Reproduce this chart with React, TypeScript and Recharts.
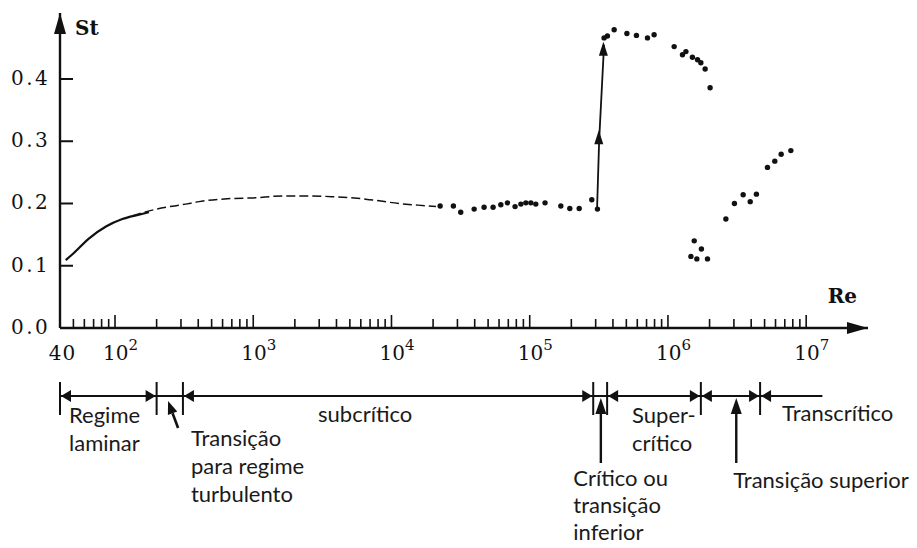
import React from 'react';
import { ComposedChart, Line, Scatter, XAxis, YAxis, ReferenceDot, ReferenceArea } from 'recharts';

// ---------- data (Re, St) ----------
const laminarCurve = [
  { re: 44, st: 0.109 }, { re: 49, st: 0.118 }, { re: 65, st: 0.144 }, { re: 86, st: 0.163 },
  { re: 113, st: 0.175 }, { re: 149, st: 0.182 }, { re: 176, st: 0.186 },
];
const subcriticalCurve = [
  { re: 133, st: 0.180 }, { re: 200, st: 0.191 }, { re: 324, st: 0.199 }, { re: 405, st: 0.203 },
  { re: 706, st: 0.208 }, { re: 1000, st: 0.209 }, { re: 1620, st: 0.212 }, { re: 2500, st: 0.212 },
  { re: 3700, st: 0.211 }, { re: 6500, st: 0.207 }, { re: 11350, st: 0.200 }, { re: 18600, st: 0.196 },
  { re: 21000, st: 0.195 },
];
const subcriticalPoints = [
  { re: 22490, st: 0.196 }, { re: 28050, st: 0.196 }, { re: 31700, st: 0.186 }, { re: 39630, st: 0.191 },
  { re: 46770, st: 0.194 }, { re: 54330, st: 0.194 }, { re: 61800, st: 0.198 }, { re: 69020, st: 0.201 },
  { re: 78340, st: 0.195 }, { re: 86300, st: 0.199 }, { re: 93760, st: 0.201 }, { re: 101900, st: 0.201 },
  { re: 110660, st: 0.199 }, { re: 129100, st: 0.201 }, { re: 167900, st: 0.196 }, { re: 194980, st: 0.192 },
  { re: 228000, st: 0.192 }, { re: 281200, st: 0.206 }, { re: 309000, st: 0.191 },
];
const criticalJump = [
  { re: 307000, st: 0.191 }, { re: 318000, st: 0.302 }, { re: 345000, st: 0.455 },
];
const jumpArrowHeads = [
  { re: 316000, st: 0.305 }, { re: 341000, st: 0.447 },
];
const supercriticalPoints = [
  { re: 345100, st: 0.466 }, { re: 364800, st: 0.469 }, { re: 408300, st: 0.479 }, { re: 504700, st: 0.473 },
  { re: 591600, st: 0.470 }, { re: 711200, st: 0.466 }, { re: 794300, st: 0.471 }, { re: 1109000, st: 0.452 },
  { re: 1274000, st: 0.439 }, { re: 1349000, st: 0.444 }, { re: 1503000, st: 0.435 }, { re: 1637000, st: 0.431 },
  { re: 1730000, st: 0.426 }, { re: 1858000, st: 0.416 }, { re: 2018000, st: 0.386 },
];
const transcriticalPoints = [
  { re: 1549000, st: 0.140 }, { re: 1746000, st: 0.127 }, { re: 1466000, st: 0.115 }, { re: 1618000, st: 0.111 },
  { re: 1932000, st: 0.111 }, { re: 2624000, st: 0.175 }, { re: 3027000, st: 0.200 }, { re: 3500000, st: 0.214 },
  { re: 3936000, st: 0.203 }, { re: 4365000, st: 0.215 }, { re: 5248000, st: 0.258 }, { re: 5929000, st: 0.268 },
  { re: 6592000, st: 0.279 }, { re: 7745000, st: 0.285 },
];

// ---------- axes ----------
const xDomain = [40, 2.8e7];
const yDomain = [0, 0.506];
const xTicks = [
  40, 50, 60, 70, 80, 90, 100,
  200, 300, 400, 500, 600, 700, 800, 900, 1000,
  2000, 3000, 4000, 5000, 6000, 7000, 8000, 9000, 10000,
  20000, 30000, 40000, 50000, 60000, 70000, 80000, 90000, 100000,
  200000, 300000, 400000, 500000, 600000, 700000, 800000, 900000, 1000000,
  2000000, 3000000, 4000000, 5000000, 6000000, 7000000, 8000000, 9000000, 10000000,
];
const yTicks = [0, 0.1, 0.2, 0.3, 0.4];
const xLabelPlain = [40];
const xLabelDecades = [100, 1000, 10000, 100000, 1000000, 10000000];
const yAxisTitle = 'St';
const xAxisTitle = 'Re';

// ---------- regime annotations ----------
const regimeLineRange = [40, 1.31e7];
const regimeBoundaries = [40, 200, 310, 2.88e5, 3.63e5, 1.73e6, 4.64e6];
const boundaryArrows = ['R', 'L', 'R', 'L', 'R', 'LR', 'LR'];
const upArrows = [3.27e5, 3.12e6];
const smallArrow = [242];
const regimeLabels = [
  { re: 40, lines: ['Regime', 'laminar'] },
  { re: 310, lines: ['Transição', 'para regime', 'turbulento'] },
  { re: 2944, lines: ['subcrítico'] },
  { re: 3.63e5, lines: ['Super-', 'crítico'] },
  { re: 4.64e6, lines: ['Transcrítico'] },
  { re: 3.27e5, lines: ['Crítico ou', 'transição', 'inferior'] },
  { re: 3.12e6, lines: ['Transição superior'] },
];
const labelOffsets = [
  [9, 95, 28], [8, 118, 28], [0, 94, 28], [25, 95, 28], [22, 93, 28], [-27.5, 158, 27], [-3, 160, 28],
];

const INK = '#111';
const SERIF = '"DejaVu Serif", serif';
const SANS = 'Lato, "Open Sans", sans-serif';

const XTick = (props: any) => {
  const { x, y, payload } = props;
  const v = payload.value;
  const lg = Math.log10(v);
  const isDecade = Math.abs(lg - Math.round(lg)) < 1e-9;
  return (
    <g>
      {v !== 40 && (
        <line x1={x} x2={x} y1={y} y2={y - (isDecade ? 13 : 9)} stroke={INK} strokeWidth={1.6} />
      )}
      {xLabelPlain.includes(v) && (
        <text x={x + 2.5} y={y + 32} textAnchor="middle" fontFamily={SERIF} fontSize={20} fill={INK} letterSpacing={1}>
          {String(v)}
        </text>
      )}
      {xLabelDecades.includes(v) && (
        <text x={x - 12} y={y + 32} fontFamily={SERIF} fontSize={20} fill={INK} letterSpacing={0}>
          10
          <tspan dy={-10} fontSize={15}>{String(Math.round(lg))}</tspan>
        </text>
      )}
    </g>
  );
};

const YTick = (props: any) => {
  const { x, y, payload } = props;
  return (
    <g>
      <line x1={x} x2={x + 13} y1={y} y2={y} stroke={INK} strokeWidth={2} />
      <text x={x - 49} y={y + 6} fontFamily={SERIF} fontSize={20} fill={INK} letterSpacing={2.5}>
        {payload.value.toFixed(1)}
      </text>
    </g>
  );
};

const Dot = (p: any) => <circle cx={p.cx} cy={p.cy} r={2.7} fill={INK} />;
const UpHead = (p: any) => (
  <polygon points={`${p.cx},${p.cy - 8} ${p.cx - 4.5},${p.cy + 6} ${p.cx + 4.5},${p.cy + 6}`} fill={INK} />
);

const BoundaryMark = ({ cx, cy, kind }: any) => {
  const ly = cy + 68;
  return (
    <g>
      <line x1={cx} x2={cx} y1={cy + 54} y2={cy + 87} stroke={INK} strokeWidth={2} />
      {kind.includes('L') && (
        <polygon points={`${cx - 1},${ly} ${cx - 11},${ly - 6} ${cx - 11},${ly + 6}`} fill={INK} />
      )}
      {kind.includes('R') && (
        <polygon points={`${cx + 1},${ly} ${cx + 11},${ly - 6} ${cx + 11},${ly + 6}`} fill={INK} />
      )}
    </g>
  );
};

const UpArrow = ({ cx, cy }: any) => (
  <g>
    <line x1={cx} x2={cx} y1={cy + 135} y2={cy + 84} stroke={INK} strokeWidth={2.4} />
    <polygon points={`${cx},${cy + 70} ${cx - 5.5},${cy + 86} ${cx + 5.5},${cy + 86}`} fill={INK} />
  </g>
);

const SmallArrow = ({ cx, cy }: any) => {
  const tx = cx, ty = cy + 73;
  const ex = tx + 10, ey = ty + 27;
  const len = Math.hypot(ex - tx, ey - ty);
  const dx = (tx - ex) / len, dy = (ty - ey) / len;
  const bx = tx - dx * 13, by = ty - dy * 13;
  const px = -dy, py = dx;
  return (
    <g>
      <line x1={bx} y1={by} x2={ex} y2={ey} stroke={INK} strokeWidth={2.6} />
      <polygon points={`${tx},${ty} ${bx + px * 5},${by + py * 5} ${bx - px * 5},${by - py * 5}`} fill={INK} />
    </g>
  );
};

const LabelBlock = ({ cx, cy, lines, off }: any) => (
  <text fontFamily={SANS} fontSize={22} fill="#1a1a1a">
    {lines.map((t: string, i: number) => (
      <tspan key={i} x={cx + off[0]} y={cy + off[1] + i * off[2]}>{t}</tspan>
    ))}
  </text>
);

export default function App() {
  return (
    <div style={{ position: 'absolute', left: 0, top: 0, width: 917, height: 548, background: '#fff' }}>
      <ComposedChart width={917} height={548} margin={{ top: 13, right: 49, bottom: 190, left: 0 }}>
        <XAxis
          type="number"
          dataKey="re"
          scale="log"
          domain={xDomain}
          allowDataOverflow
          ticks={xTicks}
          interval={0}
          height={30}
          tickSize={0}
          tickMargin={0}
          tickLine={false}
          axisLine={{ stroke: INK, strokeWidth: 2.4 }}
          tick={(p: any) => <XTick {...p} />}
        />
        <YAxis
          type="number"
          dataKey="st"
          domain={yDomain}
          allowDataOverflow
          ticks={yTicks}
          interval={0}
          width={60}
          tickSize={0}
          tickMargin={0}
          tickLine={false}
          axisLine={{ stroke: INK, strokeWidth: 2.4 }}
          tick={(p: any) => <YTick {...p} />}
        />
        <Line data={laminarCurve} dataKey="st" type="monotone" stroke={INK} strokeWidth={2.2} dot={false} activeDot={false} isAnimationActive={false} />
        <Line data={subcriticalCurve} dataKey="st" type="monotone" stroke={INK} strokeWidth={1.5} strokeDasharray="9 4" dot={false} activeDot={false} isAnimationActive={false} />
        <Line data={criticalJump} dataKey="st" type="linear" stroke={INK} strokeWidth={1.8} dot={false} activeDot={false} isAnimationActive={false} />
        <Scatter data={jumpArrowHeads} dataKey="st" shape={UpHead} isAnimationActive={false} />
        <Scatter data={subcriticalPoints} dataKey="st" shape={Dot} isAnimationActive={false} />
        <Scatter data={supercriticalPoints} dataKey="st" shape={Dot} isAnimationActive={false} />
        <Scatter data={transcriticalPoints} dataKey="st" shape={Dot} isAnimationActive={false} />

        {/* axis arrows and titles */}
        <ReferenceDot
          x={xDomain[0]} y={yDomain[1]} ifOverflow="visible"
          shape={(p: any) => (
            <g>
              <polygon points={`${p.cx},${p.cy} ${p.cx - 6},${p.cy + 21} ${p.cx + 6},${p.cy + 21}`} fill={INK} />
              <text x={p.cx + 15} y={p.cy + 22} fontFamily={SERIF} fontWeight="bold" fontSize={20} fill={INK}>{yAxisTitle}</text>
            </g>
          )}
        />
        <ReferenceDot
          x={xDomain[1]} y={0} ifOverflow="visible"
          shape={(p: any) => (
            <g>
              <polygon points={`${p.cx},${p.cy} ${p.cx - 21},${p.cy - 6} ${p.cx - 21},${p.cy + 6}`} fill={INK} />
              <text x={p.cx - 11} y={p.cy - 25} textAnchor="end" fontFamily={SERIF} fontWeight="bold" fontSize={20} fill={INK}>{xAxisTitle}</text>
            </g>
          )}
        />

        {/* regime annotations */}
        <ReferenceArea
          x1={regimeLineRange[0]} x2={regimeLineRange[1]} ifOverflow="visible"
          shape={(p: any) => (
            <line x1={p.x} x2={p.x + p.width} y1={p.y + p.height + 68} y2={p.y + p.height + 68} stroke={INK} strokeWidth={2} />
          )}
        />
        {regimeBoundaries.map((re, i) => (
          <ReferenceDot key={'b' + i} x={re} y={0} ifOverflow="visible"
            shape={(p: any) => <BoundaryMark cx={p.cx} cy={p.cy} kind={boundaryArrows[i]} />} />
        ))}
        {upArrows.map((re, i) => (
          <ReferenceDot key={'u' + i} x={re} y={0} ifOverflow="visible"
            shape={(p: any) => <UpArrow cx={p.cx} cy={p.cy} />} />
        ))}
        {smallArrow.map((re, i) => (
          <ReferenceDot key={'s' + i} x={re} y={0} ifOverflow="visible"
            shape={(p: any) => <SmallArrow cx={p.cx} cy={p.cy} />} />
        ))}
        {regimeLabels.map((l, i) => (
          <ReferenceDot key={'l' + i} x={l.re} y={0} ifOverflow="visible"
            shape={(p: any) => <LabelBlock cx={p.cx} cy={p.cy} lines={l.lines} off={labelOffsets[i]} />} />
        ))}
      </ComposedChart>
    </div>
  );
}
